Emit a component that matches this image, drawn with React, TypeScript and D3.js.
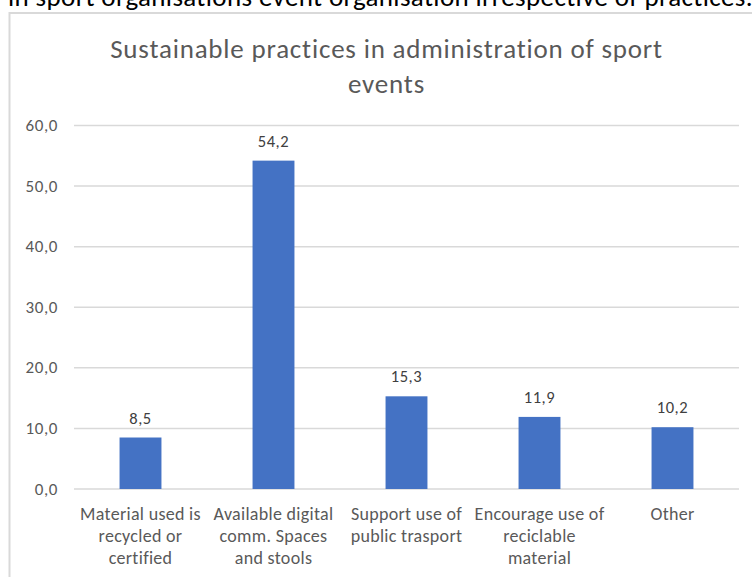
import React from "react";
import * as d3 from "d3";

const categories: string[][] = [
  ["Material used is", "recycled or", "certified"],
  ["Available digital", "comm. Spaces", "and stools"],
  ["Support use of", "public trasport"],
  ["Encourage use of", "reciclable", "material"],
  ["Other"],
];
const values: number[] = [8.5, 54.2, 15.3, 11.9, 10.2];
const yTicks: number[] = [0, 10, 20, 30, 40, 50, 60];
const titleLines: string[] = ["Sustainable practices in administration of sport", "events"];
const aboveText = "in sport organisations event organisation irrespective of practices.";

const W = 752;
const H = 577;
const FONT = "Carlito, Calibri, Lato, 'Liberation Sans', sans-serif";
const fmt = (v: number) => v.toFixed(1).replace(".", ",");

export default function App() {
  const plotLeft = 74;
  const plotRight = 739;
  const plotTop = 125.5;
  const plotBottom = 489;

  const x = d3
    .scaleBand<number>()
    .domain(values.map((_, i) => i))
    .range([plotLeft, plotRight])
    .paddingInner(0.685)
    .paddingOuter(0.3425);
  const y = d3.scaleLinear().domain([0, 60]).range([plotBottom, plotTop]);

  return (
    <svg
      width={W}
      height={H}
      style={{ position: "absolute", left: 0, top: 0, background: "#fff" }}
      fontFamily={FONT}
    >
      <rect x={0} y={0} width={W} height={H} fill="#fff" />
      <text x={8} y={5.5} fontSize={27} letterSpacing={0.37} fill="#000">
        {aboveText}
      </text>
      {/* chart frame */}
      <rect x={9.5} y={13} width={W + 20} height={H + 20} fill="#fff" stroke="#d9d9d9" strokeWidth={2} />
      {titleLines.map((t, i) => (
        <text
          key={i}
          x={386.5}
          y={57.5 + i * 35}
          fontSize={27}
          letterSpacing={0.8}
          fill="#595959"
          textAnchor="middle"
        >
          {t}
        </text>
      ))}
      {yTicks.map((t) => (
        <g key={t}>
          <line x1={plotLeft} x2={plotRight} y1={y(t)} y2={y(t)} stroke="#d9d9d9" strokeWidth={1.5} />
          <text x={58} y={y(t) + 5.5} fontSize={17} letterSpacing={0.6} fill="#595959" textAnchor="end">
            {fmt(t)}
          </text>
        </g>
      ))}
      {values.map((v, i) => (
        <g key={i}>
          <rect x={x(i)} y={y(v)} width={x.bandwidth()} height={y(0) - y(v)} fill="#4472c4" />
          <text
            x={(x(i) as number) + x.bandwidth() / 2}
            y={y(v) - 14}
            fontSize={16.5}
            letterSpacing={0.6}
            fill="#404040"
            textAnchor="middle"
          >
            {fmt(v)}
          </text>
          {categories[i].map((line, j) => (
            <text
              key={j}
              x={(x(i) as number) + x.bandwidth() / 2}
              y={519.5 + j * 22}
              fontSize={18}
              letterSpacing={0.3}
              fill="#595959"
              textAnchor="middle"
            >
              {line}
            </text>
          ))}
        </g>
      ))}
    </svg>
  );
}
